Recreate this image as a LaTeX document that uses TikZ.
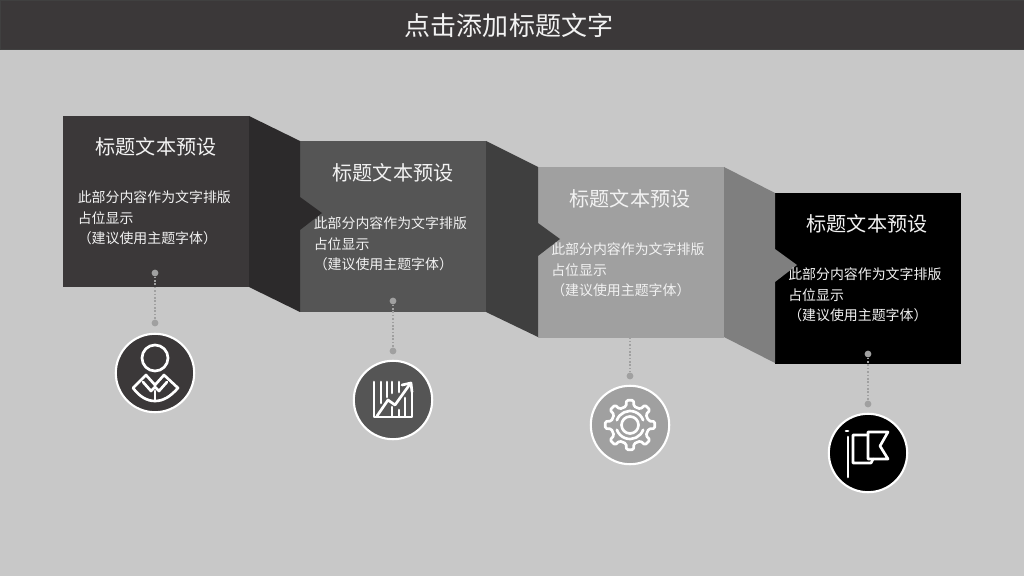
\documentclass[tikz,border=0pt]{standalone}
\usepackage{fontspec}
\newfontfamily\cjk{Noto Sans CJK SC}
\definecolor{pagegray}{HTML}{C8C8C8}
\definecolor{barcolor}{HTML}{3B3839}
\definecolor{boxone}{HTML}{3B3839}
\definecolor{boxtwo}{HTML}{555555}
\definecolor{boxthree}{HTML}{A0A0A0}
\definecolor{foldone}{HTML}{2C2A2B}
\definecolor{foldtwo}{HTML}{3F3F3F}
\definecolor{foldthree}{HTML}{7F7F7F}
\definecolor{dotcolor}{HTML}{A0A0A0}
\tikzset{
    panel/.style={rectangle, anchor=north west, inner sep=0pt, minimum width=4.65cm, minimum height=4.27cm},
    heading/.style={inner sep=0pt, text=white!95!black, font=\cjk\fontsize{14.3}{17}\selectfont},
    bodytext/.style={anchor=west, align=left, inner sep=0pt, text=white!95!black, font=\cjk\fontsize{9.9}{14.6}\selectfont},
    badge/.style={circle, draw=white, line width=1.5pt, minimum size=1.96cm, inner sep=0pt},
    dotmark/.style={circle, fill=dotcolor, minimum size=0.17cm, inner sep=0pt},
    dotline/.style={dotcolor, line width=1.4pt, dash pattern=on 1.2pt off 1.2pt},
    iconline/.style={white, line width=1.9pt, line join=round, line cap=round}
}

\begin{document}
\begin{tikzpicture}[x=0.025cm, y=-0.025cm]
    \useasboundingbox (0,0) rectangle (1024,576);
    \fill[pagegray] (0,0) rectangle (1024,576);
    \node (titlebar) [rectangle, anchor=north west, fill=barcolor, draw=black!75, line width=0.4pt, inner sep=0pt, minimum width=25.6cm, minimum height=1.23cm] at (0,0) {};
    \node (title) [text=white!95!black, font=\cjk\fontsize{18.5}{22}\selectfont] at (509,26) {点击添加标题文字};

    \node (box1) [panel, fill=boxone] at (63,116) {};
    \node (box2) [panel, fill=boxtwo] at (300,141) {};
    \node (box3) [panel, fill=boxthree] at (538,167) {};
    \node (box4) [panel, fill=black] at (775,193) {};

    \fill[foldone] (249,116) -- (300,141) -- (300,197) -- (322,213) -- (300,230) -- (300,312) -- (249,287) -- cycle;
    \fill[foldtwo] (486,141) -- (538,167) -- (538,223) -- (560,239) -- (538,256) -- (538,337) -- (486,312) -- cycle;
    \fill[foldthree] (724,167) -- (775,193) -- (775,249) -- (797,265) -- (775,282) -- (775,363) -- (724,337) -- cycle;

    \node (head1) [heading] at (156,147) {标题文本预设};
    \node (head2) [heading] at (393,173) {标题文本预设};
    \node (head3) [heading] at (630,199) {标题文本预设};
    \node (head4) [heading] at (867,224) {标题文本预设};
    \node (text1) [bodytext] at (77.5,218) {此部分内容作为文字排版\\占位显示\\（建议使用主题字体）};
    \node (text2) [bodytext] at (313.5,244) {此部分内容作为文字排版\\占位显示\\（建议使用主题字体）};
    \node (text3) [bodytext] at (551,270) {此部分内容作为文字排版\\占位显示\\（建议使用主题字体）};
    \node (text4) [bodytext] at (788,295) {此部分内容作为文字排版\\占位显示\\（建议使用主题字体）};

    \node (top1) [dotmark] at (155,273) {};
    \node (end1) [dotmark] at (155,323) {};
    \node (top2) [dotmark] at (393,301) {};
    \node (end2) [dotmark] at (393,351) {};
    \node (top3) [dotmark] at (630,327) {};
    \node (end3) [dotmark] at (630,376) {};
    \node (top4) [dotmark] at (868,354) {};
    \node (end4) [dotmark] at (868,404) {};
    \draw[dotline] (top1) -- (end1);
    \draw[dotline] (top2) -- (end2);
    \draw[dotline] (top3) -- (end3);
    \draw[dotline] (top4) -- (end4);

    \node (badge1) [badge, fill=boxone] at (155,373) {};
    \node (badge2) [badge, fill=boxtwo] at (393,400) {};
    \node (badge3) [badge, fill=boxthree] at (630,425) {};
    \node (badge4) [badge, fill=black] at (868,453) {};

    % person
    \draw[iconline] (155,358) circle (13);
    \draw[iconline] (133,388) -- (146,375) -- (155,385) -- (164,375) -- (178,388) .. controls (170,397) and (163,401) .. (155,401) .. controls (147,401) and (140,397) .. (133,388) -- cycle;
    \draw[iconline] (143,382) -- (151,391) -- (155,387) -- (159,391) -- (167,382);
    \draw[iconline] (155,391) -- (155,401);

    % chart
    \draw[iconline] (374,382) -- (374,417) -- (412,417) -- (412,392);
    \draw[iconline] (381,382) -- (381,403);
    \draw[iconline] (387,382) -- (387,397);
    \draw[iconline] (392,382) -- (392,393);
    \draw[iconline] (399,382) -- (399,392);
    \draw[iconline] (392,407) -- (392,416);
    \draw[iconline] (399,410) -- (399,416);
    \draw[iconline] (405,398) -- (405,416);
    \draw[iconline] (377,416) -- (388,400) -- (395,405) -- (410,384);
    \draw[iconline] (402,385) -- (411,383) -- (412,392);

    % gear
    \begin{scope}[shift={(630,425)}]
        \draw[iconline, rounded corners=1pt] (-12:19) \foreach \a in {0,45,...,315} { -- (\a-12:19) -- (\a-8:25) -- (\a+8:25) -- (\a+12:19) } -- cycle;
        \draw[iconline] (0,0) circle (8.5);
        \draw[iconline] (20:14) arc (20:160:14);
        \draw[iconline] (200:14) arc (200:340:14);
    \end{scope}

    % flag
    \draw[iconline] (848,437) -- (848,477);
    \draw[iconline] (846,431) -- (848,431);
    \draw[iconline] (868,435) -- (853,435) -- (853,463) -- (871,463) -- (873,459);
    \draw[iconline] (868,459) -- (868,432) -- (888,432) -- (880,446) -- (888,459) -- (868,459);
\end{tikzpicture}
\end{document}
